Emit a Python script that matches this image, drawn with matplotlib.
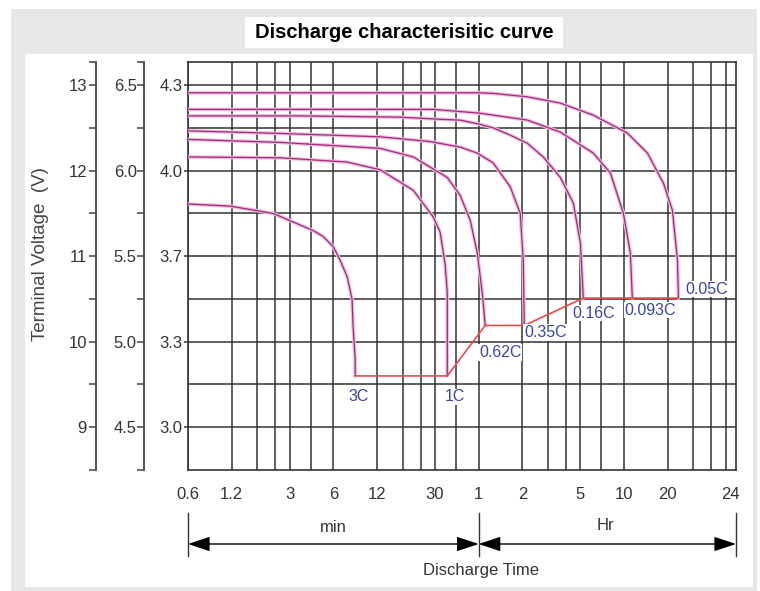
import matplotlib
matplotlib.use("Agg")
import matplotlib.pyplot as plt
import matplotlib.transforms as mtransforms
from matplotlib.patches import Rectangle
from matplotlib.ticker import NullFormatter


## data: discharge time in minutes, terminal voltage of the 12 V block
RATES = ["3C", "1C", "0.62C", "0.35C", "0.16C", "0.093C", "0.05C"]

T_3C = [0.6, 1.17, 2.31, 4.35, 5.11, 6.0, 6.69, 7.47, 7.83, 8.08, 8.21, 8.48, 8.48]
V_3C = [11.61, 11.585, 11.50, 11.30, 11.23, 11.11, 10.95, 10.76, 10.60, 10.49, 10.17, 9.80, 9.60]

T_1C = [0.6, 2.58, 7.47, 12.6, 21.3, 29.2, 32.6, 35.3, 36.5, 36.5]
V_1C = [12.16, 12.15, 12.10, 12.01, 11.77, 11.46, 11.28, 10.90, 10.57, 9.60]

T_062C = [0.6, 2.58, 12.6, 21.3, 36.5, 44.8, 52.5, 58.7, 63.5, 66.6]
V_062C = [12.365, 12.33, 12.26, 12.16, 11.92, 11.71, 11.42, 11.04, 10.57, 10.19]

T_035C = [0.6, 2.58, 12.6, 27.8, 44.8, 58.7, 75.5, 99.0, 116, 121.7, 123.7]
V_035C = [12.465, 12.435, 12.395, 12.34, 12.275, 12.205, 12.09, 11.81, 11.50, 10.95, 10.19]

T_016C = [0.6, 3.55, 17.3, 32.6, 44.8, 60, 75.5, 99, 129.7, 167, 219, 269, 301, 315]
V_016C = [12.64, 12.64, 12.625, 12.60, 12.59, 12.545, 12.50, 12.415, 12.32, 12.16, 11.92, 11.62, 11.15, 10.51]

T_0093C = [0.6, 29.2, 60, 75.5, 129.7, 219, 369, 484, 594, 664, 685]
V_0093C = [12.716, 12.716, 12.673, 12.649, 12.591, 12.450, 12.205, 11.971, 11.503, 11.035, 10.509]

T_005C = [0.6, 60, 75.5, 129.7, 219, 369, 633, 870, 1121, 1292, 1400, 1422]
V_005C = [12.91, 12.91, 12.903, 12.863, 12.789, 12.649, 12.439, 12.205, 11.854, 11.538, 10.953, 10.509]

# end-of-discharge line
T_CUT = [8.48, 36.5, 66.6, 123.7, 315, 1422]
V_CUT = [9.60, 9.60, 10.19, 10.19, 10.51, 10.51]

# axis scales
X_MIN, X_MAX = 0.6, 3540
Y_MIN, Y_MAX = 8.5, 13.27
X_TICKS = [0.6, 1.2, 3, 6, 12, 30, 60, 120, 300, 600, 1200, X_MAX]
X_LABELS = ["0.6", "1.2", "3", "6", "12", "30", "1", "2", "5", "10", "20", "24"]
X_GRID = [0.6, 1.2, 1.8, 2.4, 3, 4.2, 6, 12, 18, 24, 30, 42, 60, 120, 180,
          240, 300, 420, 600, 1200, 1800, 2400, 3000]
V12_TICKS = [9, 10, 11, 12, 13]
V12_LABELS = ["9", "10", "11", "12", "13"]
V6_LABELS = ["4.5", "5.0", "5.5", "6.0", "6.5"]
CELL_LABELS = ["3.0", "3.3", "3.7", "4.0", "4.3"]
Y_HALF = [8.5, 9.5, 10.5, 11.5, 12.5]
Y_GRID = [9, 9.5, 10, 10.5, 11, 11.5, 12, 12.5, 13]

CURVES = [(T_3C, V_3C), (T_1C, V_1C), (T_062C, V_062C), (T_035C, V_035C),
          (T_016C, V_016C), (T_0093C, V_0093C), (T_005C, V_005C)]
# label offset from curve end, in pixels
LABEL_OFFSETS = [(3, -21), (8, -21), (15, -27), (21, -7), (10, -15), (18, -12), (28, 9)]


W, H = 760, 591
FONT = "Liberation Sans"
GRID_C = "#333333"
CURVE_C = "#a6267e"
HALO_C = "#ecbedc"
CUT_C = "#f04848"
LABEL_C = "#3a44a0"
TEXT_C = "#333333"


def fx(x):
  return x / W


def fy(y):
  return 1 - y / H


plt.rcParams["font.family"] = [FONT, "DejaVu Sans"]

fig = plt.figure(figsize=(W / 100, H / 100), dpi=100)
fig.patch.set_facecolor("white")

## STEP1: background frame and title box
fig.patches.append(Rectangle((fx(11), fy(591)), fx(757 - 11), (591 - 9) / H,
                             transform=fig.transFigure, facecolor="#e7e7e7",
                             edgecolor="none", zorder=-10))
fig.patches.append(Rectangle((fx(25), fy(587)), fx(753 - 25), (587 - 54) / H,
                             transform=fig.transFigure, facecolor="white",
                             edgecolor="none", zorder=-9))
fig.patches.append(Rectangle((fx(245), fy(48)), fx(563 - 245), (48 - 17) / H,
                             transform=fig.transFigure, facecolor="white",
                             edgecolor="none", zorder=-8))
fig.text(fx(404), fy(33), "Discharge characterisitic curve", ha="center",
         va="center", fontsize=14.5, fontweight="bold", color="black")

## STEP2: main axes
L, R, T, B = 188, 736, 62, 470
ax = fig.add_axes([fx(L), fy(B), fx(R - L), (B - T) / H])
ax.set_xscale("log")
ax.set_xlim(X_MIN, X_MAX)
ax.set_ylim(Y_MIN, Y_MAX)
ax.xaxis.remove_overlapping_locs = False
ax.yaxis.remove_overlapping_locs = False

ax.set_xticks(X_TICKS)
ax.set_xticklabels(X_LABELS)
ax.set_xticks(X_GRID, minor=True)
ax.xaxis.set_minor_formatter(NullFormatter())
ax.tick_params(axis="x", which="both", length=0, pad=12, labelsize=12,
               labelcolor=TEXT_C)
# the last label sits a little inside the right edge
last = ax.get_xticklabels()[-1]
last.set_transform(last.get_transform() +
                   mtransforms.ScaledTranslation(-6 / 100, 0, fig.dpi_scale_trans))

ax.set_yticks(V12_TICKS)
ax.set_yticklabels(CELL_LABELS)
ax.set_yticks(Y_GRID, minor=True)
ax.tick_params(axis="y", which="major", length=3, width=1.1, pad=1,
               labelsize=12, labelcolor=TEXT_C, color=GRID_C)
ax.tick_params(axis="y", which="minor", length=0)

ax.grid(which="minor", axis="both", color=GRID_C, linewidth=1.1)
ax.set_axisbelow(True)
for s in ax.spines.values():
  s.set_color(GRID_C)
  s.set_linewidth(1.2)

## STEP3: curves
for (t, v), name, off in zip(CURVES, RATES, LABEL_OFFSETS):
  ax.plot(t, v, color=HALO_C, linewidth=2.6, solid_capstyle="round", zorder=3)
  ax.plot(t, v, color=CURVE_C, linewidth=0.9, zorder=4)
  ax.annotate(name, xy=(t[-1], v[-1]), xytext=off, textcoords="offset pixels",
              ha="center", va="center", fontsize=11.5, color=LABEL_C, zorder=6,
              bbox=dict(boxstyle="square,pad=0.05", facecolor="white",
                        edgecolor="none"))
ax.plot(T_CUT, V_CUT, color=CUT_C, linewidth=1.2, zorder=5)

## STEP4: extra voltage scales on the left
def side_axis(xpix, labels, pad):
  a = fig.add_axes([fx(xpix), fy(B), 0.0001, (B - T) / H])
  a.set_facecolor("none")
  a.set_ylim(Y_MIN, Y_MAX)
  a.set_xticks([])
  for k in ("top", "right", "bottom"):
    a.spines[k].set_visible(False)
  a.spines["left"].set_color("#444444")
  a.spines["left"].set_linewidth(1.3)
  a.set_yticks(V12_TICKS)
  a.set_yticklabels(labels)
  a.set_yticks(Y_HALF + [Y_MAX], minor=True)
  a.tick_params(axis="y", which="both", length=5, width=1.1, color="#444444",
                pad=pad, labelsize=12, labelcolor=TEXT_C)
  return a


side_axis(96, V12_LABELS, 1.5)
side_axis(144, V6_LABELS, 0.3)

fig.text(fx(41), fy(254), "Terminal Voltage  (V)", rotation=90, ha="center",
         va="center", fontsize=13.5, color="#444444")

## STEP5: time dimension arrows
trans = mtransforms.blended_transform_factory(ax.transData, fig.transFigure)
for xv in (X_MIN, 60, X_MAX):
  ax.plot([xv, xv], [fy(513), fy(556)], transform=trans, color="#333333",
          linewidth=1.0, clip_on=False)
for x0, x1 in ((X_MIN, 60), (60, X_MAX)):
  ax.annotate("", xy=(x1, fy(544)), xytext=(x0, fy(544)), xycoords=trans,
              textcoords=trans,
              arrowprops=dict(arrowstyle="<|-|>,head_length=0.9,head_width=0.3",
                              mutation_scale=15, color="black", linewidth=1.0,
                              shrinkA=0, shrinkB=0))
ax.text(6, fy(528), "min", transform=trans, ha="center", va="center",
        fontsize=12, color=TEXT_C)
ax.text(450, fy(526), "Hr", transform=trans, ha="center", va="center",
        fontsize=12, color=TEXT_C)
fig.text(fx(481), fy(570), "Discharge Time", ha="center", va="center",
         fontsize=12, color=TEXT_C)

fig.savefig("out.png", dpi=100)
